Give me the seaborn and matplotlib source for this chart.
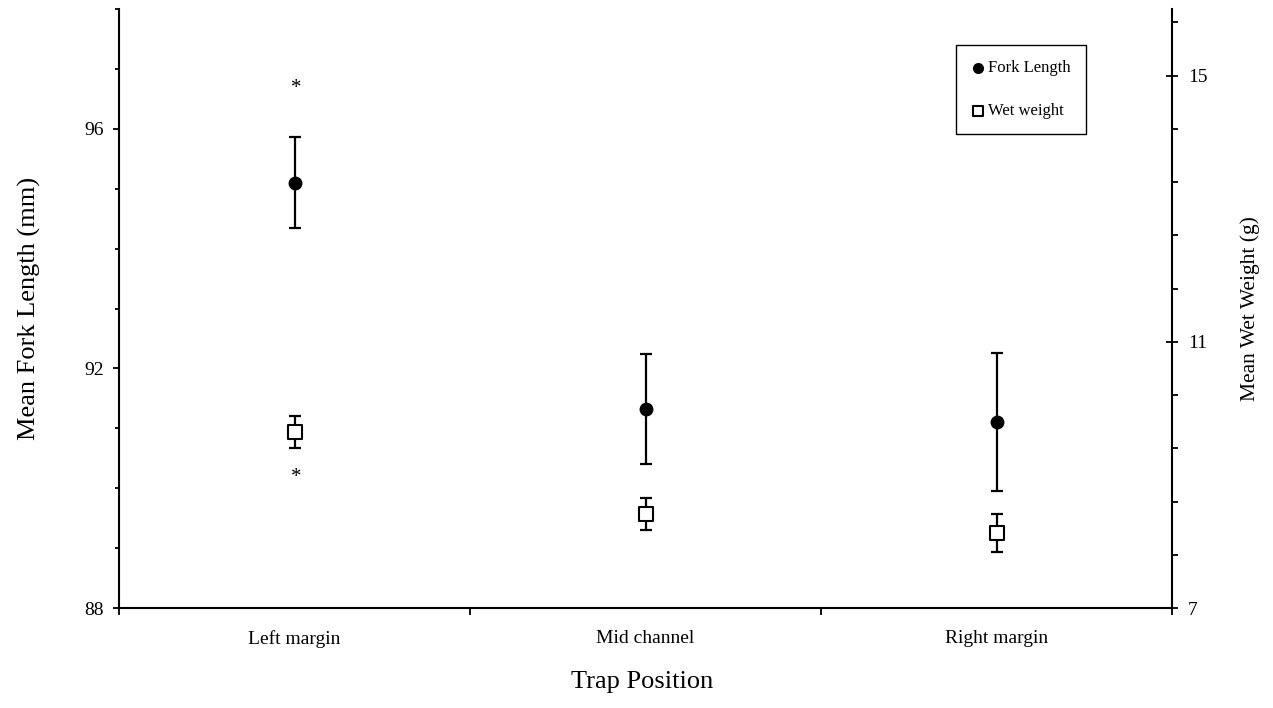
#!/usr/bin/env python3
"""
Mean fork length and wet weight by trap position (two y axes)
"""
import numpy as np
import pandas as pd
import matplotlib.pyplot as plt
import seaborn as sns
from matplotlib.ticker import FixedLocator

# data
positions = ['Left margin', 'Mid channel', 'Right margin']
fork_mean = [95.10, 91.32, 91.11]
fork_se = [0.76, 0.92, 1.15]
weight_mean = [9.65, 8.41, 8.13]
weight_se = [0.24, 0.245, 0.29]
fork_sig = [True, False, False]
weight_sig = [True, False, False]

sns.set_theme(style='ticks')
plt.rcParams['font.family'] = ['Liberation Serif', 'DejaVu Serif']
plt.rcParams['axes.linewidth'] = 1.5
for key in ('text.color', 'axes.labelcolor', 'xtick.color', 'ytick.color', 'axes.edgecolor'):
    plt.rcParams[key] = 'black'

df = pd.DataFrame({
    'x': np.arange(len(positions)),
    'position': positions,
    'fork': fork_mean,
    'fork_se': fork_se,
    'weight': weight_mean,
    'weight_se': weight_se,
})

fig, ax = plt.subplots(figsize=(12.73, 7.08), dpi=100)
fig.subplots_adjust(left=0.0935, right=0.9207, bottom=0.1412, top=0.9873)
ax2 = ax.twinx()

# fork length (left axis)
ax.errorbar(df['x'], df['fork'], yerr=df['fork_se'], fmt='none', ecolor='black',
            elinewidth=1.6, capsize=4.5, capthick=1.6, zorder=2)
sns.scatterplot(data=df, x='x', y='fork', ax=ax, marker='o', s=100, color='black',
                edgecolor='black', linewidth=0, label='Fork Length', zorder=3)

# wet weight (right axis)
ax2.errorbar(df['x'], df['weight'], yerr=df['weight_se'], fmt='none', ecolor='black',
             elinewidth=1.6, capsize=4.5, capthick=1.6, zorder=2)
sns.scatterplot(data=df, x='x', y='weight', ax=ax2, marker='s', s=90, facecolor='white',
                edgecolor='black', linewidth=1.5, label='Wet weight', zorder=3)

# significance stars
for i, row in df.iterrows():
    if fork_sig[i]:
        ax.annotate('*', (row['x'], row['fork'] + row['fork_se']), xytext=(1, 32),
                    textcoords='offset points', ha='center', va='baseline', fontsize=15)
    if weight_sig[i]:
        ax2.annotate('*', (row['x'], row['weight'] - row['weight_se']), xytext=(1, -25),
                     textcoords='offset points', ha='center', va='baseline', fontsize=15)

# x axis
ax.set_xlim(-0.5, len(positions) - 0.5)
ax.set_xticks(np.arange(len(positions) + 1) - 0.5)
ax.set_xticklabels([])
ax.set_xticks(df['x'], labels=positions, minor=True)
ax.tick_params(axis='x', which='major', direction='out', length=5, width=1.3)
ax.tick_params(axis='x', which='minor', length=0, pad=16, labelsize=14)
ax.set_xlabel('Trap Position', fontsize=19)
ax.xaxis.set_label_coords(0.4967, -0.105)

# left axis
ax.set_ylim(88, 98)
ax.set_yticks([88, 92, 96])
ax.yaxis.set_minor_locator(FixedLocator(np.arange(88, 98.5, 1)))
ax.tick_params(axis='y', which='major', direction='out', length=4.3, width=1.3,
               pad=6.5, labelsize=14)
ax.tick_params(axis='y', which='minor', direction='out', length=3, width=1.3)
ax.set_ylabel('Mean Fork Length (mm)', fontsize=19)
ax.yaxis.set_label_coords(-0.074, 0.5)

# right axis
ax2.set_ylim(7, 16)
ax2.set_yticks([7, 11, 15])
ax2.yaxis.set_minor_locator(FixedLocator(np.arange(7, 16, 0.8)))
ax2.tick_params(axis='y', which='major', direction='inout', length=8.6, width=1.3,
                pad=7, labelsize=14)
ax2.tick_params(axis='y', which='minor', direction='out', length=4.3, width=1.3)
ax2.set_ylabel('Mean Wet Weight (g)', fontsize=15.5)
ax2.yaxis.set_label_coords(1.0646, 0.5)

for a in (ax, ax2):
    a.spines['top'].set_visible(False)
ax.spines['right'].set_visible(False)
ax2.spines['left'].set_visible(False)
ax2.spines['bottom'].set_visible(False)

# legend with both series
h1, l1 = ax.get_legend_handles_labels()
h2, l2 = ax2.get_legend_handles_labels()
if ax.get_legend():
    ax.get_legend().remove()
if ax2.get_legend():
    ax2.get_legend().remove()
leg = ax2.legend(h1 + h2, l1 + l2, loc='upper left', bbox_to_anchor=(0.751, 0.9364),
                 bbox_transform=fig.transFigure, borderaxespad=0, fontsize=12,
                 frameon=True, fancybox=False, framealpha=1, edgecolor='black',
                 handlelength=0.8, handletextpad=0.22, borderpad=0.9,
                 labelspacing=1.62, markerscale=0.8)
leg.get_frame().set_linewidth(1.0)

plt.savefig('out.png', dpi=100)
